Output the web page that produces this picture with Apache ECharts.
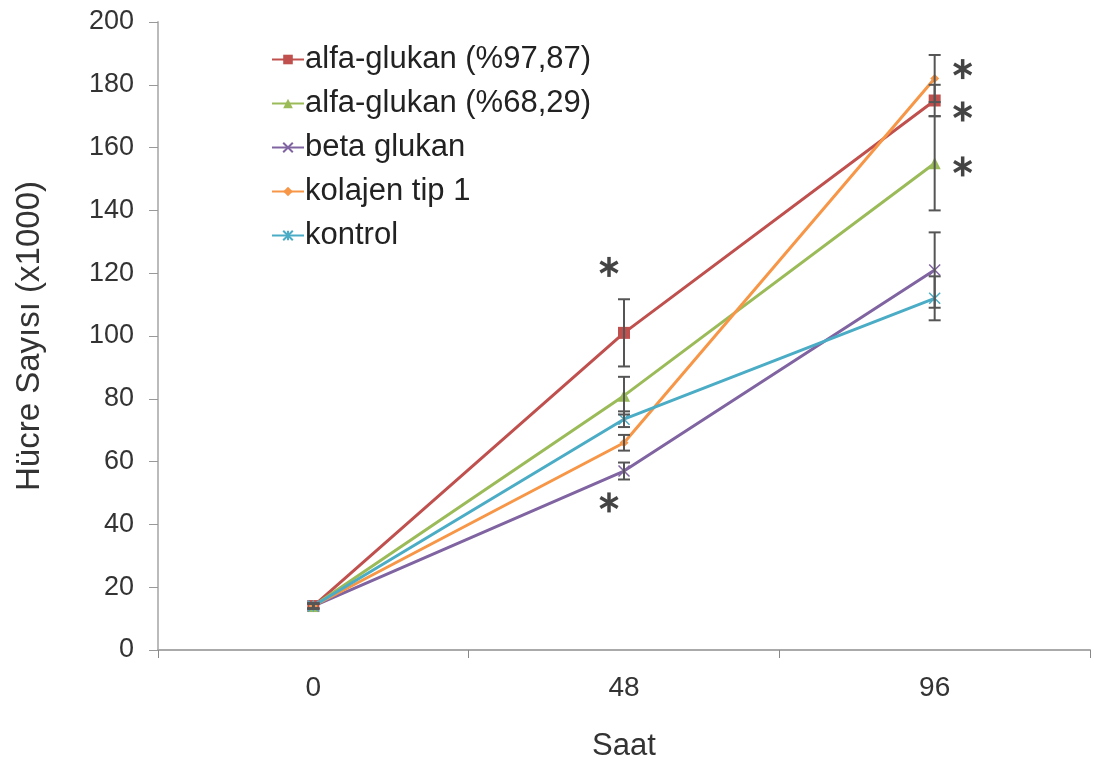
<!DOCTYPE html>
<html><head><meta charset="utf-8">
<script src="https://cdn.jsdelivr.net/npm/echarts@6/dist/echarts.min.js"></script>
<style>html,body{margin:0;padding:0;background:#fff}#c{width:1094px;height:767px}</style>
</head><body><div id="c"></div>
<script>
var categories = ['0', '48', '96'];
var seriesNames = ['alfa-glukan (%97,87)', 'alfa-glukan (%68,29)', 'beta glukan', 'kolajen tip 1', 'kontrol'];
var alfa97 = [14, 101, 175];
var alfa68 = [14, 81, 155];
var beta = [14, 57, 121];
var kolajen = [14, 66, 182];
var kontrol = [14, 73.5, 112];
var err97 = [0.8, 10.7, 5];
var err68 = [0.8, 6, 15];
var errBeta = [0.8, 2.7, 12];
var errKol = [0.8, 2.5, 7.5];
var errKon = [0.8, 2.5, 7];
var stars = [[1, 122], [1, 47], [2, 185], [2, 171.5], [2, 154]];
var yTicks = [0, 200, 20];

var colors = ['#C0504D', '#9BBB59', '#8064A2', '#F79646', '#4BACC6'];
var symbols = ['rect', 'triangle', 'path://M0,0L10,10M10,0L0,10', 'diamond', 'path://M0,0L10,10M10,0L0,10M5,0L5,10'];
var symSizes = [12, 12, 11, 9, 11];
var vals = [alfa97, alfa68, beta, kolajen, kontrol];
var errs = [err97, err68, errBeta, errKol, errKon];

var errData = [];
vals.forEach(function (v, s) {
  v.forEach(function (y, i) { errData.push([i, y - errs[s][i], y + errs[s][i]]); });
});

var series = vals.map(function (v, s) {
  return {
    name: seriesNames[s], type: 'line', data: v,
    symbol: symbols[s], symbolSize: symSizes[s], showAllSymbol: true,
    lineStyle: {color: colors[s], width: 3},
    itemStyle: {color: colors[s], borderColor: colors[s], borderWidth: (s === 2 || s === 4) ? 1.5 : 0},
    z: 3
  };
});
series.push({
  type: 'custom', name: 'err', z: 4, silent: true,
  data: errData,
  encode: {x: 0, y: [1, 2]},
  renderItem: function (params, api) {
    var p1 = api.coord([api.value(0), api.value(1)]);
    var p2 = api.coord([api.value(0), api.value(2)]);
    var w = 6;
    var st = {stroke: '#555', lineWidth: 2};
    return {type: 'group', children: [
      {type: 'line', shape: {x1: p1[0], y1: p1[1], x2: p2[0], y2: p2[1]}, style: st},
      {type: 'line', shape: {x1: p1[0] - w, y1: p1[1], x2: p1[0] + w, y2: p1[1]}, style: st},
      {type: 'line', shape: {x1: p2[0] - w, y1: p2[1], x2: p2[0] + w, y2: p2[1]}, style: st}
    ]};
  }
});
series.push({
  type: 'custom', name: 'stars', z: 5, silent: true,
  data: stars,
  renderItem: function (params, api) {
    var p = api.coord([api.value(0), api.value(1)]);
    var cx = p[0] + (api.value(0) === 1 ? -15 : 28);
    var cy = p[1];
    var r = 10;
    var st = {stroke: '#444', lineWidth: 3.5};
    var kids = [];
    [90, 30, 150].forEach(function (a) {
      var rad = a * Math.PI / 180;
      var dx = r * Math.cos(rad), dy = r * Math.sin(rad);
      kids.push({type: 'line', shape: {x1: cx - dx, y1: cy - dy, x2: cx + dx, y2: cy + dy}, style: st});
    });
    return {type: 'group', children: kids};
  }
});

var chart = echarts.init(document.getElementById('c'));
chart.setOption({
  animation: false,
  backgroundColor: '#fff',
  textStyle: {fontFamily: 'Liberation Sans'},
  grid: {left: 158, right: 4, top: 22, bottom: 115, containLabel: false},
  legend: {
    data: seriesNames, orient: 'vertical', left: 266, top: 39,
    itemGap: 13, itemWidth: 32, itemHeight: 12,
    textStyle: {fontSize: 31, color: '#222', fontFamily: 'Liberation Sans', padding: [0, 0, 0, -4]}
  },
  xAxis: {
    type: 'category', data: categories, boundaryGap: true,
    name: 'Saat', nameLocation: 'middle', nameGap: 81,
    nameTextStyle: {fontSize: 31, color: '#333'},
    axisLine: {lineStyle: {color: '#aaa', width: 2}},
    axisTick: {show: true, length: 8, lineStyle: {color: '#888', width: 1}},
    axisLabel: {fontSize: 28, color: '#333', margin: 24}
  },
  yAxis: {
    type: 'value', min: yTicks[0], max: yTicks[1], interval: yTicks[2],
    name: 'Hücre Sayısı (x1000)', nameLocation: 'middle', nameGap: 112,
    nameTextStyle: {fontSize: 33, color: '#333'},
    axisLine: {show: true, lineStyle: {color: '#bbb', width: 2}},
    axisTick: {show: true, length: 9, lineStyle: {color: '#999', width: 1}},
    axisLabel: {fontSize: 27, color: '#333', margin: 24},
    splitLine: {show: false}
  },
  series: series
});
</script></body></html>
